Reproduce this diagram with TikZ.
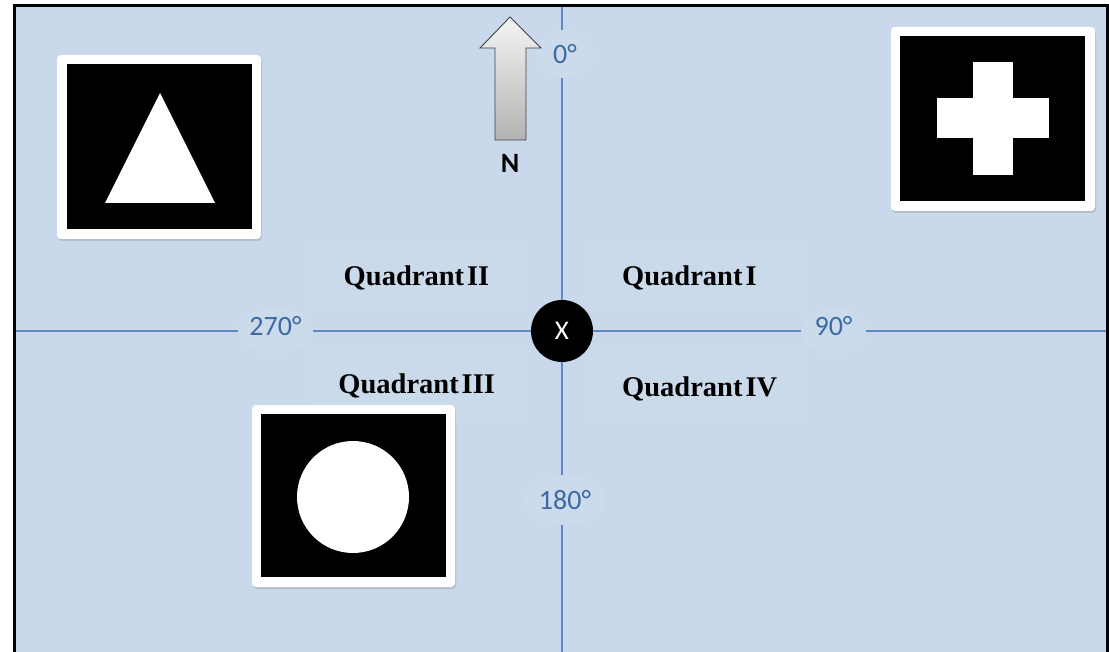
\documentclass[tikz,border=0pt]{standalone}
\usepackage{fontspec}
\setmainfont{Liberation Serif}
\newfontfamily\calib{Carlito}
\usetikzlibrary{shapes.geometric,shadows}
\definecolor{bgblue}{HTML}{C9D9EB}
\definecolor{axisblue}{HTML}{5A8BC6}
\definecolor{degtext}{HTML}{3C6AA2}
\definecolor{glowblue}{HTML}{CCDBEC}
\definecolor{quadfill}{HTML}{CBDAEB}
\tikzset{
  axis/.style={draw=axisblue, line width=1.1pt},
  deglabel/.style={ellipse, fill=glowblue, inner sep=0pt, text=degtext,
    font=\calib\fontsize{28}{30}\selectfont},
  quadtext/.style={inner sep=0pt, font=\fontsize{28.5}{30}\selectfont\bfseries},
  quadbox/.style={fill=quadfill},
  photoframe/.style={fill=white, rounded corners=4pt, inner sep=0pt,
    drop shadow={shadow xshift=1pt, shadow yshift=-2pt, opacity=0.3}},
  photoinner/.style={fill=black, inner sep=0pt},
  shapewhite/.style={fill=white},
  northarrow/.style={draw=black!75, line width=0.9pt, top color=black!4, bottom color=black!30, line join=miter},
}
\begin{document}
\begin{tikzpicture}[x=1pt,y=-1pt]
\useasboundingbox (0,0) rectangle (1109,652);
\fill[white] (0,0) rectangle (1109,652);
\fill[bgblue] (14,5) rectangle (1108,652);
\draw[black, line width=3pt, line join=miter] (14,652) -- (14,5.5) -- (1107.5,5.5) -- (1107.5,652);

% quadrant text boxes (faint)
\fill[quadbox] (308,240) rectangle (527,312);
\fill[quadbox] (308,350) rectangle (527,420);
\fill[quadbox] (590,240) rectangle (808,312);
\fill[quadbox] (590,350) rectangle (808,420);

% axis end points
\coordinate (ntop) at (562,7);
\coordinate (sbot) at (562,652);
\coordinate (wend) at (15.5,331);
\coordinate (eend) at (1106,331);

% degree labels
\node[deglabel, minimum width=56pt, minimum height=48pt] (l0) at (565,54) {0°};
\node[deglabel, minimum width=80pt, minimum height=50pt] (l180) at (565,500) {180°};
\node[deglabel, minimum width=75pt, minimum height=46pt, text depth=10pt] (l270) at (275.5,331) {270°};
\node[deglabel, minimum width=65pt, minimum height=46pt, text depth=10pt] (l90) at (833.5,331) {90°};

% origin
\node[circle, fill=black, minimum size=62pt, inner sep=0pt, text=white,
      font=\calib\fontsize{27}{29}\selectfont] (origin) at (562,331) {X};

% axes
\draw[axis] (ntop) -- (ntop |- l0.north);
\draw[axis] (ntop |- l0.south) -- (origin);
\draw[axis] (origin) -- (origin |- l180.north);
\draw[axis] (origin |- l180.south) -- (sbot);
\draw[axis] (wend) -- (l270.west);
\draw[axis] (l270.east) -- (origin);
\draw[axis] (origin) -- (l90.west);
\draw[axis] (l90.east) -- (eend);

% quadrant labels
\node[quadtext, anchor=base] (q2) at (416.5,286) {Quadrant\hspace{3pt}II};
\node[quadtext, anchor=base] (q3) at (416.7,393.5) {Quadrant\hspace{3pt}III};
\node[quadtext, anchor=base west] (q1) at (622,286) {Quadrant\hspace{3pt}I};
\node[quadtext, anchor=base west] (q4) at (622,396.5) {Quadrant\hspace{3pt}IV};

% north arrow
\path[northarrow] (510,17) -- (541,48) -- (526,48) -- (526,140) -- (495,140) -- (495,48) -- (480,48) -- cycle;
\node[font=\calib\fontsize{28}{30}\selectfont\bfseries, inner sep=0pt] (nlabel) at (510,163) {N};

% triangle picture
\node[photoframe, minimum width=204pt, minimum height=184pt] (triframe) at (159,147) {};
\node[photoinner, minimum width=185pt, minimum height=165pt] (triimg) at (159.5,146.5) {};
\fill[shapewhite] (160,93) -- (215,203) -- (105,203) -- cycle;

% cross picture
\node[photoframe, minimum width=204pt, minimum height=184pt] (crossframe) at (993,119) {};
\node[photoinner, minimum width=185pt, minimum height=165pt] (crossimg) at (992.5,118.5) {};
\fill[shapewhite] (973,62) rectangle (1013,175);
\fill[shapewhite] (937,98) rectangle (1049,138);

% circle picture
\node[photoframe, minimum width=203pt, minimum height=182pt] (circframe) at (353.5,496) {};
\node[photoinner, minimum width=185pt, minimum height=163pt] (circimg) at (353.5,495.5) {};
\fill[shapewhite] (353,497) circle[radius=56];
\end{tikzpicture}
\end{document}
